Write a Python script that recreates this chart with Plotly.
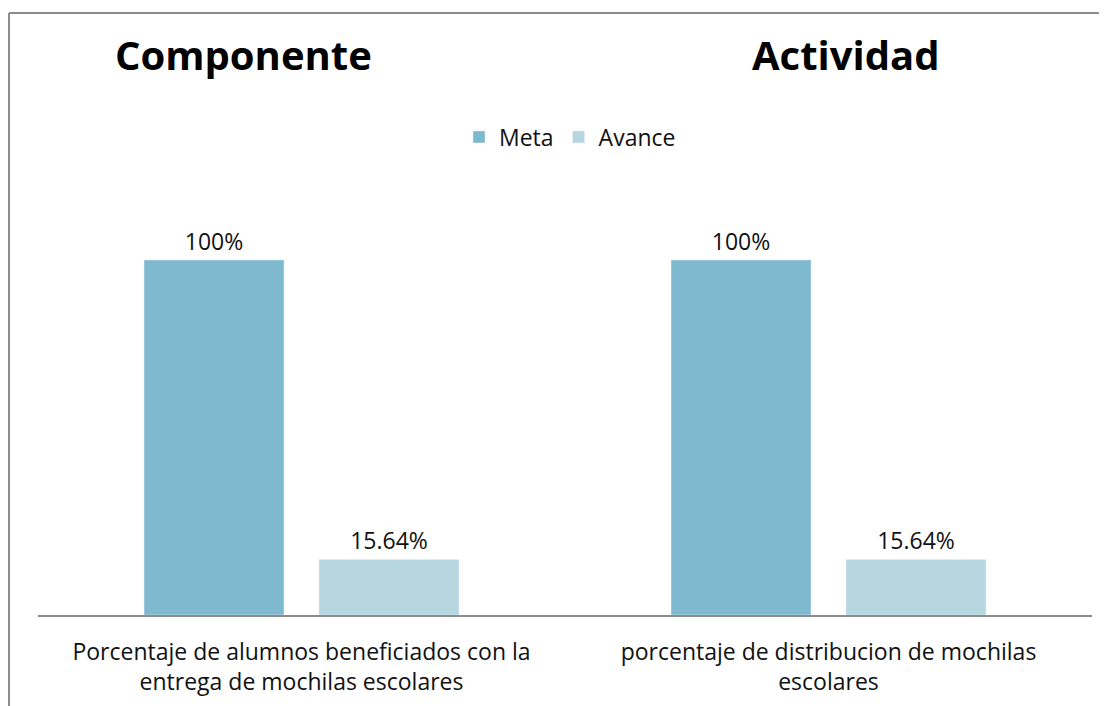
import plotly.graph_objects as go

categories = ["Porcentaje de alumnos beneficiados con la<br>entrega de mochilas escolares",
              "porcentaje de distribucion de mochilas<br>escolares"]
meta_values = [100, 100]
avance_values = [15.64, 15.64]
section_titles = ["Componente", "Actividad"]

# page body has an 8px margin; work in screen pixels and offset
OFF = 8
W, H = 1107 - OFF, 706 - OFF
ML, MR, MT, MB = 38 - OFF, 15, 189 - OFF, 91
PW, PH = W - ML - MR, H - MT - MB

def px_x(x):
    return (x - OFF - ML) / PW

def px_y(y):
    return (H - MB - (y - OFF)) / PH

FONT = "Open Sans"

fig = go.Figure()
fig.add_trace(go.Bar(name="Meta", x=categories, y=meta_values,
                     marker_color="#7EB9CF",
                     text=[f"{v:g}%" for v in meta_values], textposition="outside",
                     textfont=dict(size=23, color="#111", family=FONT), cliponaxis=False))
fig.add_trace(go.Bar(name="Avance", x=categories, y=avance_values,
                     marker_color="#B6D6E0",
                     text=[f"{v:g}%" for v in avance_values], textposition="outside",
                     textfont=dict(size=23, color="#111", family=FONT), cliponaxis=False))

fig.update_layout(
    width=W, height=H,
    margin=dict(l=ML, r=MR, t=MT, b=MB, autoexpand=False),
    paper_bgcolor="white", plot_bgcolor="white",
    barmode="group", bargap=0.336, bargroupgap=0.2,
    font=dict(family=FONT, color="#111"),
    showlegend=True,
    legend=dict(orientation="h", x=px_x(570), xanchor="center", y=px_y(137), yanchor="middle",
                font=dict(size=23, family=FONT, color="#111"), itemwidth=30,
                bgcolor="rgba(0,0,0,0)"),
    xaxis=dict(showline=True, linecolor="#8c8c8c", linewidth=1.5, ticks="",
               ticklabelstandoff=16,
               tickfont=dict(size=23, family=FONT, color="#111"), fixedrange=True),
    yaxis=dict(range=[0, 120], visible=False, fixedrange=True),
)

# titles
for title, cx in zip(section_titles, [243, 845]):
    fig.add_annotation(text=f"<b>{title}</b>", xref="paper", yref="paper",
                       x=px_x(cx), y=px_y(55), xanchor="center", yanchor="middle",
                       showarrow=False, font=dict(size=40, family=FONT, color="#000"))

# frame lines
fig.add_shape(type="line", xref="paper", yref="paper",
              x0=px_x(9), x1=px_x(1107), y0=px_y(13), y1=px_y(13),
              line=dict(color="#8c8c8c", width=2))
fig.add_shape(type="line", xref="paper", yref="paper",
              x0=px_x(9), x1=px_x(9), y0=px_y(13), y1=px_y(706),
              line=dict(color="#8c8c8c", width=2))

fig.write_html("out.html")
